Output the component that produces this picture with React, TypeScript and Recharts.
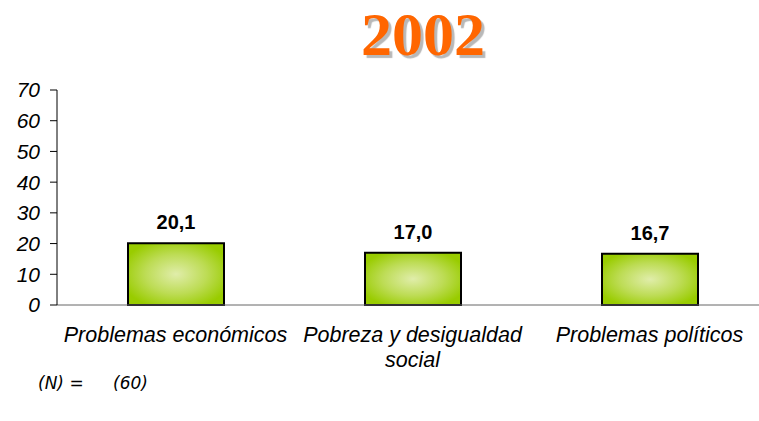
// Bar chart: main problems, 2002

import { BarChart, Bar, XAxis, YAxis, LabelList } from 'recharts';

const categories = ['Problemas económicos', 'Pobreza y desigualdad social', 'Problemas políticos'];
const values = [20.1, 17.0, 16.7];
const yTicks = [0, 10, 20, 30, 40, 50, 60, 70];
const edgeTicks = [0, 1, 2, 3];

const data = categories.map((name, i) => ({ name, value: values[i] }));

const fmt = (v: number) => v.toFixed(1).replace('.', ',');

const labelFont = "'Liberation Sans', Arial, sans-serif";

// greedy word wrap by character count
const wrap = (s: string, max: number) => {
  const lines: string[] = [];
  let cur = '';
  s.split(' ').forEach(w => {
    const next = cur ? cur + ' ' + w : w;
    if (next.length > max && cur) {
      lines.push(cur);
      cur = w;
    } else {
      cur = next;
    }
  });
  if (cur) lines.push(cur);
  return lines;
};

function CategoryTick(props: any) {
  const { x, y, payload } = props;
  const lines = wrap(String(payload.value), 21);
  return (
    <text
      x={x}
      y={y + 14}
      textAnchor="middle"
      fill="#000"
      style={{ fontSize: 21.5, fontStyle: 'italic', fontFamily: labelFont }}
    >
      {lines.map((l, i) => (
        <tspan key={i} x={x} dy={i === 0 ? '0.71em' : 25}>
          {l}
        </tspan>
      ))}
    </text>
  );
}

// small tick marks between categories, drawn at the edges axis position
function EdgeTick(props: any) {
  const { x, y } = props;
  return <line x1={x} x2={x} y1={y - 2} y2={y + 6} stroke="#666" strokeWidth={1} />;
}

export default function App() {
  return (
    <div style={{ position: 'absolute', left: 0, top: 0, width: 759, height: 421, overflow: 'hidden', background: '#fff' }}>
      <div
        style={{
          position: 'absolute',
          left: 0,
          top: 3,
          width: 846,
          textAlign: 'center',
          fontFamily: "'Liberation Serif', 'Times New Roman', serif",
          fontWeight: 'bold',
          fontSize: 62,
          color: '#ff6600',
          textShadow: '3px 3px 1px #b8b8b8',
          lineHeight: '62px',
        }}
      >
        2002
      </div>
      <div style={{ position: 'absolute', left: 0, top: 0 }}>
        <BarChart
          width={780}
          height={421}
          data={data}
          margin={{ top: 90, right: 12, left: 0, bottom: 56 }}
          barSize={96}
        >
          <defs>
            <radialGradient id="barFill" cx="50%" cy="50%" r="58%">
              <stop offset="0%" stopColor="#e0edaa" />
              <stop offset="55%" stopColor="#bddc55" />
              <stop offset="100%" stopColor="#99cc00" />
            </radialGradient>
          </defs>
          <XAxis
            xAxisId="edges"
            type="number"
            domain={[0, 3]}
            ticks={edgeTicks}
            interval={0}
            height={0}
            axisLine={false}
            tickLine={false}
            tickSize={0}
            tickMargin={0}
            tick={<EdgeTick />}
          />
          <XAxis
            dataKey="name"
            height={60}
            tickLine={false}
            axisLine={{ stroke: '#666' }}
            tick={<CategoryTick />}
            interval={0}
          />
          <YAxis
            width={57}
            domain={[0, 70]}
            ticks={yTicks}
            interval={0}
            tickSize={7}
            tickMargin={10}
            axisLine={{ stroke: '#000' }}
            tickLine={{ stroke: '#000' }}
            tick={{ fontSize: 21, fontStyle: 'italic', fill: '#000', fontFamily: labelFont }}
          />
          <Bar dataKey="value" fill="url(#barFill)" stroke="#000" strokeWidth={2} isAnimationActive={false}>
            <LabelList
              dataKey="value"
              position="top"
              offset={14}
              formatter={(v: any) => fmt(Number(v))}
              style={{ fontSize: 20, fontWeight: 'bold', fill: '#000', fontFamily: labelFont }}
            />
          </Bar>
        </BarChart>
      </div>
      <div
        style={{
          position: 'absolute',
          left: 38,
          top: 373,
          fontFamily: "'DejaVu Sans', sans-serif",
          fontStyle: 'italic',
          fontSize: 17,
          color: '#000',
          whiteSpace: 'pre',
        }}
      >
        <span>(N) =</span>
        <span style={{ position: 'absolute', left: 75 }}>(60)</span>
      </div>
    </div>
  );
}
